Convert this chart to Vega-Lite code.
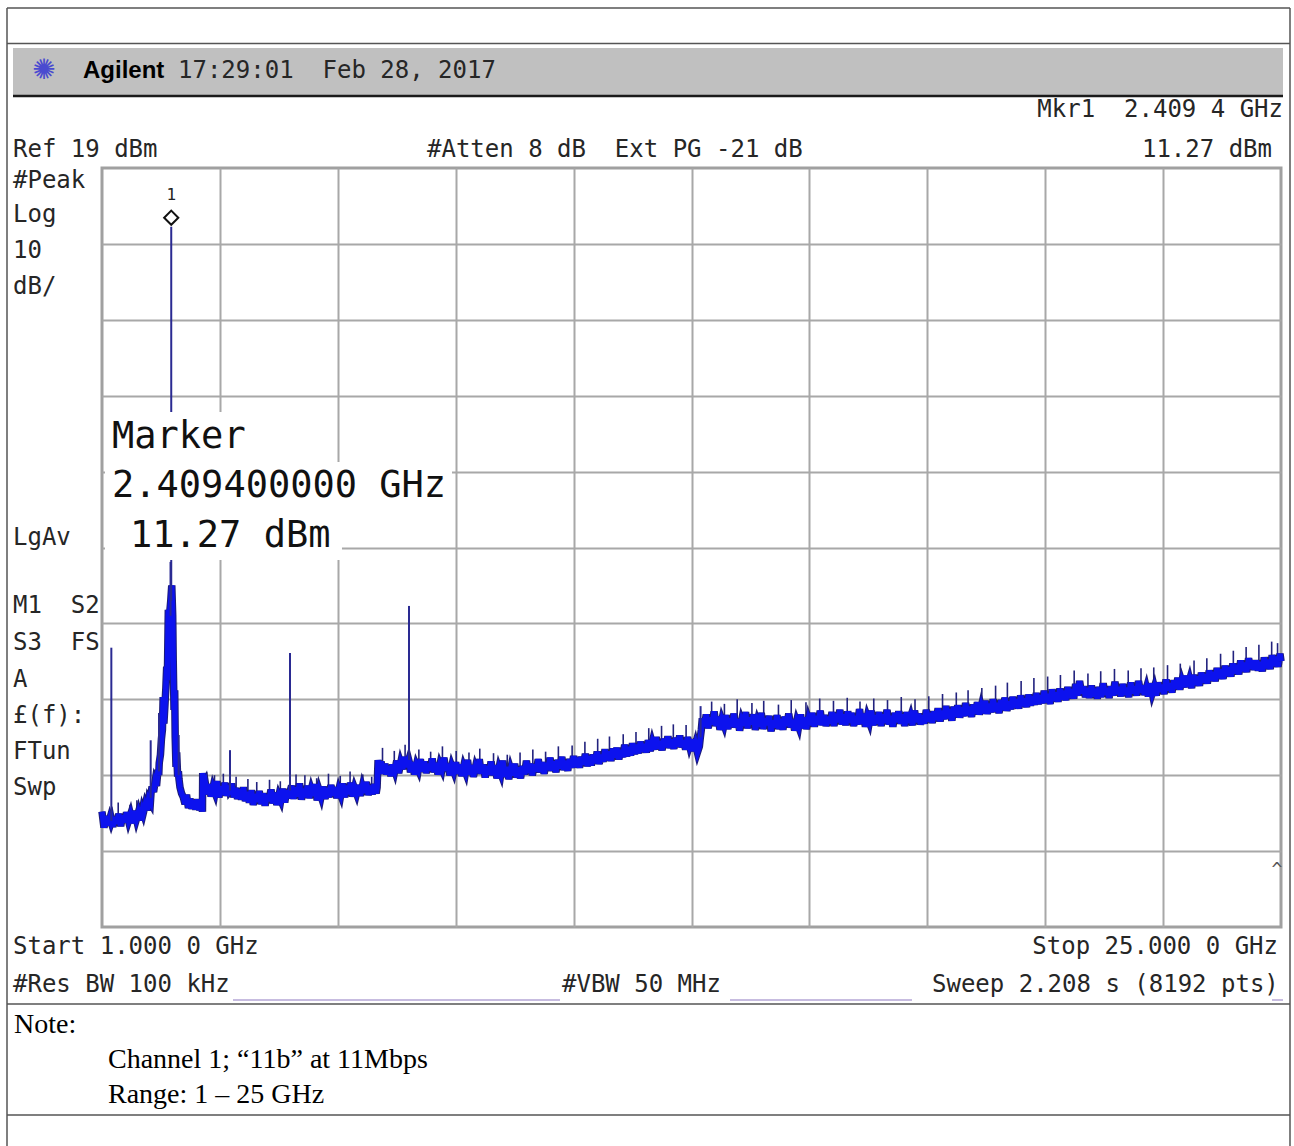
{
"$schema": "https://vega.github.io/schema/vega-lite/v6.json",
"width": 1179,
"height": 759,
"autosize": {"type": "none"},
"padding": {"left": 102, "top": 168, "right": 13, "bottom": 219},
"background": "white",
"config": {"view": {"stroke": "#a0a0a0", "strokeWidth": 3}},
"datasets": {
"trace": [
{"ghz":1.00,"dbm":-65.8},{"ghz":1.04,"dbm":-67.9},{"ghz":1.08,"dbm":-66.4},{"ghz":1.12,"dbm":-67.6},{"ghz":1.16,"dbm":-66.7},{"ghz":1.185,"dbm":-67.2},{"ghz":1.195,"dbm":-67.0},{"ghz":1.22,"dbm":-67.8},{"ghz":1.26,"dbm":-66.5},{"ghz":1.30,"dbm":-67.4},{"ghz":1.34,"dbm":-66.1},{"ghz":1.38,"dbm":-67.7},{"ghz":1.42,"dbm":-66.3},{"ghz":1.46,"dbm":-67.2},{"ghz":1.50,"dbm":-65.9},{"ghz":1.54,"dbm":-67.0},{"ghz":1.58,"dbm":-66.2},{"ghz":1.62,"dbm":-67.3},{"ghz":1.66,"dbm":-65.7},{"ghz":1.70,"dbm":-66.8},{"ghz":1.74,"dbm":-65.9},{"ghz":1.78,"dbm":-66.9},{"ghz":1.82,"dbm":-65.6},{"ghz":1.84,"dbm":-66.0},{"ghz":1.88,"dbm":-64.9},{"ghz":1.92,"dbm":-65.6},{"ghz":1.95,"dbm":-64.2},{"ghz":1.985,"dbm":-64.6},{"ghz":1.997,"dbm":-63.4},{"ghz":2.02,"dbm":-62.5},{"ghz":2.05,"dbm":-63.2},{"ghz":2.08,"dbm":-61.9},{"ghz":2.11,"dbm":-62.4},{"ghz":2.14,"dbm":-60.3},{"ghz":2.155,"dbm":-61.0},{"ghz":2.165,"dbm":-59.4},{"ghz":2.19,"dbm":-58.3},{"ghz":2.21,"dbm":-56.2},{"ghz":2.23,"dbm":-55.0},{"ghz":2.245,"dbm":-50.7},{"ghz":2.26,"dbm":-54.2},{"ghz":2.28,"dbm":-51.9},{"ghz":2.30,"dbm":-49.5},{"ghz":2.317,"dbm":-46.7},{"ghz":2.33,"dbm":-48.5},{"ghz":2.35,"dbm":-39.2},{"ghz":2.365,"dbm":-44.0},{"ghz":2.384,"dbm":-39.2},{"ghz":2.40,"dbm":-38.0},{"ghz":2.42,"dbm":-36.0},{"ghz":2.439,"dbm":-39.9},{"ghz":2.45,"dbm":-46.0},{"ghz":2.466,"dbm":-52.4},{"ghz":2.48,"dbm":-49.8},{"ghz":2.49,"dbm":-56.0},{"ghz":2.506,"dbm":-59.9},{"ghz":2.52,"dbm":-58.0},{"ghz":2.54,"dbm":-61.2},{"ghz":2.555,"dbm":-60.5},{"ghz":2.567,"dbm":-61.5},{"ghz":2.588,"dbm":-62.6},{"ghz":2.62,"dbm":-63.4},{"ghz":2.655,"dbm":-63.9},{"ghz":2.69,"dbm":-64.8},{"ghz":2.72,"dbm":-63.6},{"ghz":2.76,"dbm":-65.3},{"ghz":2.79,"dbm":-64.1},{"ghz":2.83,"dbm":-65.4},{"ghz":2.87,"dbm":-64.3},{"ghz":2.91,"dbm":-65.5},{"ghz":2.95,"dbm":-64.2},{"ghz":2.99,"dbm":-65.6},{"ghz":3.03,"dbm":-64.6},{"ghz":3.045,"dbm":-65.8},{"ghz":3.05,"dbm":-60.7},{"ghz":3.06,"dbm":-62.4},
{"ghz":3.10,"dbm":-61.9},{"ghz":3.14,"dbm":-63.5},{"ghz":3.18,"dbm":-62.2},{"ghz":3.22,"dbm":-63.8},{"ghz":3.26,"dbm":-62.6},{"ghz":3.30,"dbm":-63.3},{"ghz":3.34,"dbm":-61.8},{"ghz":3.38,"dbm":-63.9},{"ghz":3.42,"dbm":-62.5},{"ghz":3.46,"dbm":-63.6},{"ghz":3.50,"dbm":-62.0},{"ghz":3.54,"dbm":-63.7},{"ghz":3.58,"dbm":-62.4},{"ghz":3.600,"dbm":-63.1},{"ghz":3.612,"dbm":-63.0},{"ghz":3.64,"dbm":-62.1},{"ghz":3.68,"dbm":-63.9},{"ghz":3.72,"dbm":-62.7},{"ghz":3.76,"dbm":-64.1},{"ghz":3.80,"dbm":-62.9},{"ghz":3.84,"dbm":-64.2},{"ghz":3.88,"dbm":-62.6},{"ghz":3.92,"dbm":-64.4},{"ghz":3.96,"dbm":-63.2},{"ghz":4.00,"dbm":-64.6},{"ghz":4.04,"dbm":-63.0},{"ghz":4.08,"dbm":-64.9},{"ghz":4.12,"dbm":-63.5},{"ghz":4.16,"dbm":-64.5},{"ghz":4.20,"dbm":-63.1},{"ghz":4.24,"dbm":-64.8},{"ghz":4.28,"dbm":-63.4},{"ghz":4.32,"dbm":-65.0},{"ghz":4.36,"dbm":-63.6},{"ghz":4.40,"dbm":-64.4},{"ghz":4.44,"dbm":-62.9},{"ghz":4.48,"dbm":-64.7},{"ghz":4.52,"dbm":-63.3},{"ghz":4.56,"dbm":-64.9},{"ghz":4.60,"dbm":-63.7},{"ghz":4.64,"dbm":-64.3},{"ghz":4.68,"dbm":-62.8},{"ghz":4.72,"dbm":-64.6},{"ghz":4.76,"dbm":-63.0},{"ghz":4.80,"dbm":-64.0},{"ghz":4.821,"dbm":-63.4},{"ghz":4.833,"dbm":-63.0},{"ghz":4.86,"dbm":-62.4},{"ghz":4.90,"dbm":-64.1},{"ghz":4.94,"dbm":-62.6},{"ghz":4.98,"dbm":-63.8},{"ghz":5.02,"dbm":-62.1},{"ghz":5.06,"dbm":-64.2},{"ghz":5.10,"dbm":-62.8},{"ghz":5.14,"dbm":-63.9},{"ghz":5.18,"dbm":-62.4},{"ghz":5.22,"dbm":-64.0},{"ghz":5.26,"dbm":-62.9},{"ghz":5.30,"dbm":-63.7},{"ghz":5.34,"dbm":-62.2},{"ghz":5.38,"dbm":-64.3},{"ghz":5.42,"dbm":-63.0},{"ghz":5.46,"dbm":-63.8},{"ghz":5.50,"dbm":-62.5},{"ghz":5.54,"dbm":-64.1},{"ghz":5.58,"dbm":-62.7},{"ghz":5.62,"dbm":-63.9},{"ghz":5.66,"dbm":-62.3},{"ghz":5.70,"dbm":-63.7},{"ghz":5.74,"dbm":-62.6},{"ghz":5.78,"dbm":-64.0},{"ghz":5.82,"dbm":-62.9},{"ghz":5.86,"dbm":-63.6},{"ghz":5.90,"dbm":-62.1},{"ghz":5.94,"dbm":-63.9},{"ghz":5.98,"dbm":-62.4},{"ghz":6.02,"dbm":-63.5},{"ghz":6.06,"dbm":-62.0},{"ghz":6.10,"dbm":-63.8},{"ghz":6.14,"dbm":-62.7},{"ghz":6.18,"dbm":-63.4},{"ghz":6.22,"dbm":-62.3},{"ghz":6.26,"dbm":-63.7},{"ghz":6.30,"dbm":-62.5},{"ghz":6.34,"dbm":-63.3},{"ghz":6.38,"dbm":-61.9},{"ghz":6.42,"dbm":-63.6},{"ghz":6.46,"dbm":-62.4},{"ghz":6.50,"dbm":-63.5},{"ghz":6.54,"dbm":-62.2},{"ghz":6.58,"dbm":-63.4},{"ghz":6.60,"dbm":-62.6},{"ghz":6.62,"dbm":-59.0},{"ghz":6.64,"dbm":-60.6},
{"ghz":6.68,"dbm":-59.2},{"ghz":6.72,"dbm":-60.8},{"ghz":6.76,"dbm":-59.5},{"ghz":6.80,"dbm":-60.9},{"ghz":6.84,"dbm":-59.8},{"ghz":6.88,"dbm":-61.1},{"ghz":6.92,"dbm":-59.6},{"ghz":6.96,"dbm":-60.4},{"ghz":7.00,"dbm":-59.1},{"ghz":7.04,"dbm":-60.7},{"ghz":7.08,"dbm":-59.4},{"ghz":7.12,"dbm":-60.2},{"ghz":7.16,"dbm":-58.6},{"ghz":7.20,"dbm":-59.9},{"ghz":7.243,"dbm":-59.0},{"ghz":7.255,"dbm":-59.3},{"ghz":7.28,"dbm":-60.6},{"ghz":7.32,"dbm":-59.3},{"ghz":7.36,"dbm":-60.9},{"ghz":7.40,"dbm":-59.7},{"ghz":7.44,"dbm":-60.3},{"ghz":7.48,"dbm":-58.9},{"ghz":7.52,"dbm":-60.5},{"ghz":7.56,"dbm":-59.2},{"ghz":7.60,"dbm":-60.7},{"ghz":7.64,"dbm":-59.5},{"ghz":7.68,"dbm":-60.4},{"ghz":7.72,"dbm":-58.8},{"ghz":7.76,"dbm":-60.6},{"ghz":7.80,"dbm":-59.4},{"ghz":7.84,"dbm":-60.9},{"ghz":7.88,"dbm":-59.6},{"ghz":7.92,"dbm":-60.2},{"ghz":7.96,"dbm":-58.7},{"ghz":8.00,"dbm":-60.4},{"ghz":8.04,"dbm":-59.5},{"ghz":8.08,"dbm":-61.0},{"ghz":8.12,"dbm":-59.8},{"ghz":8.16,"dbm":-60.5},{"ghz":8.20,"dbm":-59.3},{"ghz":8.24,"dbm":-60.8},{"ghz":8.28,"dbm":-59.6},{"ghz":8.32,"dbm":-61.1},{"ghz":8.36,"dbm":-59.9},{"ghz":8.40,"dbm":-60.6},{"ghz":8.44,"dbm":-59.0},{"ghz":8.48,"dbm":-60.9},{"ghz":8.52,"dbm":-59.7},{"ghz":8.56,"dbm":-61.2},{"ghz":8.60,"dbm":-60.0},{"ghz":8.64,"dbm":-60.7},{"ghz":8.68,"dbm":-58.9},{"ghz":8.72,"dbm":-60.8},{"ghz":8.76,"dbm":-59.6},{"ghz":8.80,"dbm":-61.3},{"ghz":8.84,"dbm":-59.8},{"ghz":8.88,"dbm":-60.9},{"ghz":8.92,"dbm":-59.2},{"ghz":8.96,"dbm":-61.0},{"ghz":9.00,"dbm":-59.7},{"ghz":9.04,"dbm":-61.4},{"ghz":9.08,"dbm":-60.1},{"ghz":9.12,"dbm":-60.8},{"ghz":9.16,"dbm":-59.1},{"ghz":9.20,"dbm":-61.2},{"ghz":9.24,"dbm":-59.9},{"ghz":9.28,"dbm":-61.5},{"ghz":9.32,"dbm":-60.2},{"ghz":9.36,"dbm":-61.0},{"ghz":9.40,"dbm":-59.5},{"ghz":9.44,"dbm":-61.3},{"ghz":9.48,"dbm":-60.0},{"ghz":9.52,"dbm":-61.4},{"ghz":9.56,"dbm":-59.8},{"ghz":9.60,"dbm":-60.9},{"ghz":9.64,"dbm":-59.1},{"ghz":9.68,"dbm":-60.7},{"ghz":9.72,"dbm":-59.5},{"ghz":9.76,"dbm":-61.0},{"ghz":9.80,"dbm":-59.6},{"ghz":9.84,"dbm":-60.5},{"ghz":9.88,"dbm":-58.9},{"ghz":9.92,"dbm":-60.6},{"ghz":9.96,"dbm":-59.3},{"ghz":10.00,"dbm":-60.8},{"ghz":10.04,"dbm":-59.4},{"ghz":10.08,"dbm":-60.3},{"ghz":10.12,"dbm":-58.7},{"ghz":10.16,"dbm":-60.4},{"ghz":10.20,"dbm":-59.2},{"ghz":10.24,"dbm":-60.6},{"ghz":10.28,"dbm":-59.0},{"ghz":10.32,"dbm":-60.1},{"ghz":10.36,"dbm":-58.6},{"ghz":10.40,"dbm":-60.3},{"ghz":10.44,"dbm":-59.1},{"ghz":10.48,"dbm":-60.4},{"ghz":10.52,"dbm":-58.9},{"ghz":10.56,"dbm":-60.0},{"ghz":10.60,"dbm":-58.5},{"ghz":10.64,"dbm":-59.9},{"ghz":10.68,"dbm":-58.7},{"ghz":10.72,"dbm":-60.0},{"ghz":10.76,"dbm":-58.6},{"ghz":10.80,"dbm":-59.6},{"ghz":10.84,"dbm":-58.2},{"ghz":10.88,"dbm":-59.8},{"ghz":10.92,"dbm":-58.5},{"ghz":10.96,"dbm":-59.7},{"ghz":11.00,"dbm":-58.3},{"ghz":11.04,"dbm":-59.4},{"ghz":11.08,"dbm":-57.9},{"ghz":11.12,"dbm":-59.5},{"ghz":11.16,"dbm":-58.3},{"ghz":11.20,"dbm":-59.2},{"ghz":11.24,"dbm":-57.6},{"ghz":11.28,"dbm":-59.0},{"ghz":11.32,"dbm":-57.9},{"ghz":11.36,"dbm":-59.1},{"ghz":11.40,"dbm":-57.5},{"ghz":11.44,"dbm":-58.7},{"ghz":11.48,"dbm":-57.4},{"ghz":11.52,"dbm":-58.9},{"ghz":11.56,"dbm":-57.7},{"ghz":11.60,"dbm":-58.6},{"ghz":11.64,"dbm":-57.0},{"ghz":11.68,"dbm":-58.5},{"ghz":11.72,"dbm":-57.3},{"ghz":11.76,"dbm":-58.4},{"ghz":11.80,"dbm":-56.8},{"ghz":11.84,"dbm":-58.2},{"ghz":11.88,"dbm":-57.0},{"ghz":11.92,"dbm":-58.1},{"ghz":11.96,"dbm":-56.6},{"ghz":12.00,"dbm":-57.9},{"ghz":12.04,"dbm":-56.9},{"ghz":12.08,"dbm":-58.0},{"ghz":12.12,"dbm":-56.4},{"ghz":12.16,"dbm":-57.8},{"ghz":12.20,"dbm":-56.7},{"ghz":12.24,"dbm":-57.6},{"ghz":12.28,"dbm":-56.0},{"ghz":12.32,"dbm":-57.5},{"ghz":12.36,"dbm":-56.5},{"ghz":12.40,"dbm":-57.7},{"ghz":12.44,"dbm":-56.2},{"ghz":12.48,"dbm":-57.3},{"ghz":12.52,"dbm":-55.9},{"ghz":12.56,"dbm":-57.4},{"ghz":12.60,"dbm":-56.3},{"ghz":12.64,"dbm":-57.5},{"ghz":12.68,"dbm":-56.1},{"ghz":12.72,"dbm":-57.2},{"ghz":12.76,"dbm":-55.8},{"ghz":12.80,"dbm":-57.3},{"ghz":12.84,"dbm":-56.4},{"ghz":12.88,"dbm":-57.6},{"ghz":12.92,"dbm":-56.0},{"ghz":12.96,"dbm":-57.1},{"ghz":13.00,"dbm":-56.3},{"ghz":13.04,"dbm":-57.8},{"ghz":13.08,"dbm":-56.9},{"ghz":13.12,"dbm":-58.0},{"ghz":13.16,"dbm":-57.2},{"ghz":13.18,"dbm":-56.0},{"ghz":13.20,"dbm":-55.0},{"ghz":13.22,"dbm":-53.5},
{"ghz":13.26,"dbm":-54.6},{"ghz":13.30,"dbm":-53.0},{"ghz":13.34,"dbm":-54.8},{"ghz":13.38,"dbm":-53.4},{"ghz":13.42,"dbm":-54.3},{"ghz":13.46,"dbm":-52.6},{"ghz":13.50,"dbm":-54.5},{"ghz":13.54,"dbm":-53.3},{"ghz":13.58,"dbm":-55.0},{"ghz":13.62,"dbm":-53.7},{"ghz":13.66,"dbm":-54.4},{"ghz":13.70,"dbm":-53.1},{"ghz":13.74,"dbm":-54.9},{"ghz":13.78,"dbm":-53.5},{"ghz":13.82,"dbm":-54.6},{"ghz":13.86,"dbm":-52.9},{"ghz":13.90,"dbm":-54.7},{"ghz":13.94,"dbm":-53.6},{"ghz":13.98,"dbm":-55.1},{"ghz":14.02,"dbm":-53.8},{"ghz":14.06,"dbm":-54.5},{"ghz":14.10,"dbm":-52.7},{"ghz":14.14,"dbm":-54.8},{"ghz":14.18,"dbm":-53.4},{"ghz":14.22,"dbm":-54.3},{"ghz":14.26,"dbm":-53.0},{"ghz":14.30,"dbm":-55.0},{"ghz":14.34,"dbm":-53.9},{"ghz":14.38,"dbm":-54.6},{"ghz":14.42,"dbm":-52.8},{"ghz":14.46,"dbm":-54.9},{"ghz":14.50,"dbm":-53.5},{"ghz":14.54,"dbm":-54.4},{"ghz":14.58,"dbm":-53.2},{"ghz":14.62,"dbm":-55.2},{"ghz":14.66,"dbm":-53.8},{"ghz":14.70,"dbm":-54.7},{"ghz":14.74,"dbm":-53.1},{"ghz":14.78,"dbm":-54.9},{"ghz":14.82,"dbm":-53.6},{"ghz":14.86,"dbm":-55.0},{"ghz":14.90,"dbm":-53.3},{"ghz":14.94,"dbm":-54.5},{"ghz":14.98,"dbm":-52.9},{"ghz":15.02,"dbm":-54.7},{"ghz":15.06,"dbm":-53.7},{"ghz":15.10,"dbm":-55.1},{"ghz":15.14,"dbm":-53.9},{"ghz":15.18,"dbm":-54.6},{"ghz":15.22,"dbm":-53.0},{"ghz":15.26,"dbm":-54.8},{"ghz":15.30,"dbm":-53.4},{"ghz":15.34,"dbm":-54.9},{"ghz":15.38,"dbm":-53.6},{"ghz":15.42,"dbm":-54.4},{"ghz":15.46,"dbm":-52.8},{"ghz":15.50,"dbm":-54.6},{"ghz":15.54,"dbm":-53.2},{"ghz":15.58,"dbm":-54.3},{"ghz":15.62,"dbm":-52.5},{"ghz":15.66,"dbm":-54.4},{"ghz":15.70,"dbm":-53.1},{"ghz":15.74,"dbm":-54.5},{"ghz":15.78,"dbm":-53.3},{"ghz":15.82,"dbm":-54.2},{"ghz":15.86,"dbm":-52.7},{"ghz":15.90,"dbm":-54.5},{"ghz":15.94,"dbm":-52.9},{"ghz":15.98,"dbm":-54.0},{"ghz":16.02,"dbm":-52.4},{"ghz":16.06,"dbm":-54.3},{"ghz":16.10,"dbm":-53.0},{"ghz":16.14,"dbm":-54.4},{"ghz":16.18,"dbm":-52.6},{"ghz":16.22,"dbm":-54.1},{"ghz":16.26,"dbm":-52.8},{"ghz":16.30,"dbm":-54.5},{"ghz":16.34,"dbm":-53.2},{"ghz":16.38,"dbm":-54.3},{"ghz":16.42,"dbm":-52.3},{"ghz":16.46,"dbm":-54.2},{"ghz":16.50,"dbm":-52.9},{"ghz":16.54,"dbm":-54.6},{"ghz":16.58,"dbm":-53.3},{"ghz":16.62,"dbm":-54.0},{"ghz":16.66,"dbm":-52.5},{"ghz":16.70,"dbm":-54.4},{"ghz":16.74,"dbm":-53.1},{"ghz":16.78,"dbm":-54.2},{"ghz":16.82,"dbm":-52.7},{"ghz":16.86,"dbm":-54.5},{"ghz":16.90,"dbm":-53.0},{"ghz":16.94,"dbm":-54.1},{"ghz":16.98,"dbm":-52.4},{"ghz":17.02,"dbm":-54.3},{"ghz":17.06,"dbm":-53.2},{"ghz":17.10,"dbm":-54.6},{"ghz":17.14,"dbm":-52.8},{"ghz":17.18,"dbm":-54.0},{"ghz":17.22,"dbm":-52.6},{"ghz":17.26,"dbm":-54.2},{"ghz":17.30,"dbm":-53.0},{"ghz":17.34,"dbm":-54.5},{"ghz":17.38,"dbm":-52.7},{"ghz":17.42,"dbm":-54.1},{"ghz":17.46,"dbm":-53.3},{"ghz":17.50,"dbm":-54.4},{"ghz":17.54,"dbm":-52.5},{"ghz":17.58,"dbm":-54.0},{"ghz":17.62,"dbm":-52.9},{"ghz":17.66,"dbm":-54.3},{"ghz":17.70,"dbm":-53.1},{"ghz":17.74,"dbm":-54.2},{"ghz":17.78,"dbm":-52.4},{"ghz":17.82,"dbm":-53.9},{"ghz":17.86,"dbm":-52.8},{"ghz":17.90,"dbm":-54.1},{"ghz":17.94,"dbm":-52.6},{"ghz":17.98,"dbm":-53.7},{"ghz":18.02,"dbm":-52.2},{"ghz":18.06,"dbm":-53.9},{"ghz":18.10,"dbm":-52.5},{"ghz":18.14,"dbm":-53.6},{"ghz":18.18,"dbm":-51.9},{"ghz":18.22,"dbm":-53.5},{"ghz":18.26,"dbm":-52.3},{"ghz":18.30,"dbm":-53.8},{"ghz":18.34,"dbm":-52.0},{"ghz":18.38,"dbm":-53.3},{"ghz":18.42,"dbm":-51.8},{"ghz":18.46,"dbm":-53.4},{"ghz":18.50,"dbm":-52.1},{"ghz":18.54,"dbm":-53.2},{"ghz":18.58,"dbm":-51.5},{"ghz":18.62,"dbm":-53.1},{"ghz":18.66,"dbm":-52.0},{"ghz":18.70,"dbm":-53.3},{"ghz":18.74,"dbm":-51.7},{"ghz":18.78,"dbm":-52.9},{"ghz":18.82,"dbm":-51.4},{"ghz":18.86,"dbm":-53.0},{"ghz":18.90,"dbm":-51.9},{"ghz":18.94,"dbm":-52.8},{"ghz":18.98,"dbm":-51.2},{"ghz":19.02,"dbm":-52.9},{"ghz":19.06,"dbm":-51.6},{"ghz":19.10,"dbm":-52.7},{"ghz":19.14,"dbm":-51.0},{"ghz":19.18,"dbm":-52.6},{"ghz":19.22,"dbm":-51.5},{"ghz":19.26,"dbm":-52.8},{"ghz":19.30,"dbm":-51.1},{"ghz":19.34,"dbm":-52.4},{"ghz":19.38,"dbm":-50.8},{"ghz":19.42,"dbm":-52.5},{"ghz":19.46,"dbm":-51.3},{"ghz":19.50,"dbm":-52.3},{"ghz":19.54,"dbm":-50.7},{"ghz":19.58,"dbm":-52.1},{"ghz":19.62,"dbm":-51.0},{"ghz":19.66,"dbm":-52.2},{"ghz":19.70,"dbm":-50.5},{"ghz":19.74,"dbm":-51.9},{"ghz":19.78,"dbm":-50.9},{"ghz":19.82,"dbm":-52.0},{"ghz":19.86,"dbm":-50.4},{"ghz":19.90,"dbm":-51.8},{"ghz":19.94,"dbm":-50.6},{"ghz":19.98,"dbm":-51.7},{"ghz":20.02,"dbm":-50.2},{"ghz":20.06,"dbm":-51.6},{"ghz":20.10,"dbm":-50.5},{"ghz":20.14,"dbm":-51.5},{"ghz":20.18,"dbm":-49.9},{"ghz":20.22,"dbm":-51.4},{"ghz":20.26,"dbm":-50.3},{"ghz":20.30,"dbm":-51.6},{"ghz":20.34,"dbm":-49.7},{"ghz":20.38,"dbm":-51.2},{"ghz":20.42,"dbm":-50.1},{"ghz":20.46,"dbm":-51.3},{"ghz":20.50,"dbm":-49.6},{"ghz":20.54,"dbm":-51.0},{"ghz":20.58,"dbm":-49.9},{"ghz":20.62,"dbm":-51.1},{"ghz":20.66,"dbm":-49.4},{"ghz":20.70,"dbm":-50.8},{"ghz":20.74,"dbm":-49.7},{"ghz":20.78,"dbm":-50.9},{"ghz":20.82,"dbm":-49.0},{"ghz":20.86,"dbm":-50.5},{"ghz":20.90,"dbm":-48.6},{"ghz":20.94,"dbm":-50.2},{"ghz":20.98,"dbm":-49.3},{"ghz":21.02,"dbm":-50.7},{"ghz":21.06,"dbm":-49.5},{"ghz":21.10,"dbm":-50.8},{"ghz":21.14,"dbm":-49.2},{"ghz":21.18,"dbm":-50.6},{"ghz":21.22,"dbm":-49.6},{"ghz":21.26,"dbm":-50.9},{"ghz":21.30,"dbm":-49.4},{"ghz":21.34,"dbm":-50.7},{"ghz":21.38,"dbm":-48.9},{"ghz":21.42,"dbm":-50.4},{"ghz":21.46,"dbm":-49.5},{"ghz":21.50,"dbm":-50.8},{"ghz":21.54,"dbm":-49.3},{"ghz":21.58,"dbm":-50.5},{"ghz":21.62,"dbm":-48.7},{"ghz":21.66,"dbm":-50.3},{"ghz":21.70,"dbm":-49.4},{"ghz":21.74,"dbm":-50.6},{"ghz":21.78,"dbm":-49.0},{"ghz":21.82,"dbm":-50.4},{"ghz":21.86,"dbm":-49.5},{"ghz":21.90,"dbm":-50.7},{"ghz":21.94,"dbm":-48.8},{"ghz":21.98,"dbm":-50.2},{"ghz":22.02,"dbm":-49.3},{"ghz":22.06,"dbm":-50.5},{"ghz":22.10,"dbm":-48.6},{"ghz":22.14,"dbm":-50.1},{"ghz":22.18,"dbm":-49.2},{"ghz":22.22,"dbm":-50.4},{"ghz":22.26,"dbm":-49.5},{"ghz":22.30,"dbm":-50.6},{"ghz":22.34,"dbm":-48.9},{"ghz":22.38,"dbm":-50.2},{"ghz":22.42,"dbm":-49.4},{"ghz":22.46,"dbm":-50.5},{"ghz":22.50,"dbm":-48.8},{"ghz":22.54,"dbm":-50.0},{"ghz":22.58,"dbm":-49.1},{"ghz":22.62,"dbm":-50.3},{"ghz":22.66,"dbm":-48.4},{"ghz":22.70,"dbm":-49.8},{"ghz":22.74,"dbm":-48.9},{"ghz":22.78,"dbm":-50.1},{"ghz":22.82,"dbm":-48.5},{"ghz":22.86,"dbm":-49.6},{"ghz":22.90,"dbm":-48.2},{"ghz":22.94,"dbm":-49.7},{"ghz":22.98,"dbm":-48.6},{"ghz":23.02,"dbm":-49.4},{"ghz":23.06,"dbm":-47.9},{"ghz":23.10,"dbm":-49.3},{"ghz":23.14,"dbm":-48.4},{"ghz":23.18,"dbm":-49.5},{"ghz":23.22,"dbm":-47.8},{"ghz":23.26,"dbm":-49.1},{"ghz":23.30,"dbm":-48.0},{"ghz":23.34,"dbm":-49.2},{"ghz":23.38,"dbm":-47.5},{"ghz":23.42,"dbm":-48.8},{"ghz":23.46,"dbm":-47.7},{"ghz":23.50,"dbm":-48.9},{"ghz":23.54,"dbm":-47.2},{"ghz":23.58,"dbm":-48.5},{"ghz":23.62,"dbm":-47.4},{"ghz":23.66,"dbm":-48.6},{"ghz":23.70,"dbm":-46.9},{"ghz":23.74,"dbm":-48.2},{"ghz":23.78,"dbm":-47.1},{"ghz":23.82,"dbm":-48.3},{"ghz":23.86,"dbm":-46.6},{"ghz":23.90,"dbm":-47.9},{"ghz":23.94,"dbm":-46.8},{"ghz":23.98,"dbm":-48.0},{"ghz":24.02,"dbm":-46.3},{"ghz":24.06,"dbm":-47.6},{"ghz":24.10,"dbm":-46.5},{"ghz":24.14,"dbm":-47.7},{"ghz":24.18,"dbm":-45.9},{"ghz":24.22,"dbm":-47.3},{"ghz":24.26,"dbm":-46.2},{"ghz":24.30,"dbm":-47.4},{"ghz":24.34,"dbm":-45.6},{"ghz":24.38,"dbm":-47.0},{"ghz":24.42,"dbm":-45.9},{"ghz":24.46,"dbm":-47.1},{"ghz":24.50,"dbm":-45.9},{"ghz":24.54,"dbm":-47.2},{"ghz":24.58,"dbm":-46.1},{"ghz":24.62,"dbm":-47.3},{"ghz":24.66,"dbm":-45.5},{"ghz":24.70,"dbm":-46.9},{"ghz":24.74,"dbm":-45.8},{"ghz":24.78,"dbm":-47.0},{"ghz":24.82,"dbm":-45.2},{"ghz":24.86,"dbm":-46.6},{"ghz":24.90,"dbm":-45.4},{"ghz":24.94,"dbm":-46.7},{"ghz":24.98,"dbm":-45.0},{"ghz":25.00,"dbm":-46.0}
],
"spurs": [
{"ghz":1.19,"dbm":-67.0,"dbm2":-44.2},
{"ghz":1.991,"dbm":-64.0,"dbm2":-56.4},
{"ghz":2.160,"dbm":-60.5,"dbm2":-52.8},
{"ghz":2.395,"dbm":-40.0,"dbm2":-32.9},
{"ghz":2.4094,"dbm":-38.0,"dbm2":11.27},
{"ghz":2.561,"dbm":-61.0,"dbm2":-55.7},
{"ghz":3.606,"dbm":-63.0,"dbm2":-57.7},
{"ghz":4.827,"dbm":-63.0,"dbm2":-44.9},
{"ghz":7.249,"dbm":-59.0,"dbm2":-38.7},
{"ghz":13.185,"dbm":-56.0,"dbm2":-51.9}
],
"ticks": [
{"ghz":1.33,"dbm":-66.8,"dbm2":-64.6},{"ghz":1.57,"dbm":-66.8,"dbm2":-64.9},{"ghz":1.71,"dbm":-66.5,"dbm2":-64.3},
{"ghz":3.13,"dbm":-63.0,"dbm2":-60.6},{"ghz":3.29,"dbm":-63.0,"dbm2":-61.0},{"ghz":3.47,"dbm":-63.0,"dbm2":-60.8},{"ghz":3.73,"dbm":-63.3,"dbm2":-61.2},{"ghz":3.97,"dbm":-63.6,"dbm2":-61.5},{"ghz":4.15,"dbm":-63.8,"dbm2":-61.9},{"ghz":4.41,"dbm":-63.6,"dbm2":-61.6},{"ghz":4.63,"dbm":-63.6,"dbm2":-61.8},{"ghz":4.95,"dbm":-63.2,"dbm2":-60.9},{"ghz":5.13,"dbm":-63.2,"dbm2":-61.0},{"ghz":5.37,"dbm":-63.2,"dbm2":-61.4},{"ghz":5.61,"dbm":-63.1,"dbm2":-60.8},{"ghz":5.85,"dbm":-63.1,"dbm2":-61.1},{"ghz":6.05,"dbm":-62.9,"dbm2":-60.5},{"ghz":6.31,"dbm":-62.9,"dbm2":-60.9},{"ghz":6.49,"dbm":-62.9,"dbm2":-61.2},
{"ghz":6.71,"dbm":-60.0,"dbm2":-57.4},{"ghz":6.95,"dbm":-60.0,"dbm2":-57.8},{"ghz":7.17,"dbm":-59.4,"dbm2":-57.0},{"ghz":7.45,"dbm":-59.8,"dbm2":-57.6},{"ghz":7.69,"dbm":-59.8,"dbm2":-57.9},{"ghz":7.93,"dbm":-59.6,"dbm2":-57.2},{"ghz":8.21,"dbm":-60.0,"dbm2":-57.8},{"ghz":8.47,"dbm":-60.1,"dbm2":-58.0},{"ghz":8.69,"dbm":-60.0,"dbm2":-57.5},{"ghz":8.97,"dbm":-60.3,"dbm2":-58.1},{"ghz":9.25,"dbm":-60.5,"dbm2":-58.3},{"ghz":9.51,"dbm":-60.5,"dbm2":-58.0},{"ghz":9.77,"dbm":-60.1,"dbm2":-57.6},{"ghz":10.03,"dbm":-59.9,"dbm2":-57.9},{"ghz":10.29,"dbm":-59.5,"dbm2":-57.2},{"ghz":10.57,"dbm":-59.3,"dbm2":-57.1},{"ghz":10.83,"dbm":-59.0,"dbm2":-56.6},{"ghz":11.09,"dbm":-58.7,"dbm2":-56.2},{"ghz":11.33,"dbm":-58.3,"dbm2":-55.9},{"ghz":11.61,"dbm":-57.9,"dbm2":-55.6},{"ghz":11.87,"dbm":-57.5,"dbm2":-55.3},{"ghz":12.13,"dbm":-57.2,"dbm2":-54.8},{"ghz":12.39,"dbm":-56.9,"dbm2":-54.5},{"ghz":12.63,"dbm":-56.8,"dbm2":-54.3},{"ghz":12.89,"dbm":-56.8,"dbm2":-54.4},
{"ghz":13.41,"dbm":-53.8,"dbm2":-51.3},{"ghz":13.67,"dbm":-53.8,"dbm2":-51.6},{"ghz":13.93,"dbm":-53.8,"dbm2":-51.0},{"ghz":14.23,"dbm":-53.8,"dbm2":-51.5},{"ghz":14.47,"dbm":-53.8,"dbm2":-51.2},{"ghz":14.77,"dbm":-54.0,"dbm2":-51.7},{"ghz":15.03,"dbm":-53.8,"dbm2":-51.1},{"ghz":15.33,"dbm":-53.8,"dbm2":-51.4},{"ghz":15.61,"dbm":-53.4,"dbm2":-50.9},{"ghz":15.89,"dbm":-53.4,"dbm2":-51.2},{"ghz":16.17,"dbm":-53.3,"dbm2":-50.8},{"ghz":16.43,"dbm":-53.3,"dbm2":-51.3},{"ghz":16.71,"dbm":-53.3,"dbm2":-50.9},{"ghz":16.99,"dbm":-53.3,"dbm2":-51.1},{"ghz":17.27,"dbm":-53.3,"dbm2":-50.7},{"ghz":17.55,"dbm":-53.3,"dbm2":-51.0},{"ghz":17.83,"dbm":-53.1,"dbm2":-50.6},{"ghz":18.11,"dbm":-52.9,"dbm2":-50.3},{"ghz":18.39,"dbm":-52.5,"dbm2":-50.1},{"ghz":18.63,"dbm":-52.2,"dbm2":-49.8},{"ghz":18.91,"dbm":-52.0,"dbm2":-49.5},{"ghz":19.19,"dbm":-51.7,"dbm2":-49.2},{"ghz":19.43,"dbm":-51.5,"dbm2":-48.8},{"ghz":19.71,"dbm":-51.1,"dbm2":-48.6},{"ghz":19.97,"dbm":-50.9,"dbm2":-48.2},{"ghz":20.25,"dbm":-50.6,"dbm2":-48.0},{"ghz":20.51,"dbm":-50.3,"dbm2":-47.8},{"ghz":20.79,"dbm":-49.9,"dbm2":-47.2},{"ghz":21.07,"dbm":-50.0,"dbm2":-47.6},{"ghz":21.33,"dbm":-49.9,"dbm2":-47.3},{"ghz":21.61,"dbm":-49.6,"dbm2":-47.0},{"ghz":21.89,"dbm":-49.7,"dbm2":-47.2},{"ghz":22.15,"dbm":-49.5,"dbm2":-46.9},{"ghz":22.41,"dbm":-49.5,"dbm2":-46.8},{"ghz":22.69,"dbm":-49.2,"dbm2":-46.5},{"ghz":22.95,"dbm":-48.9,"dbm2":-46.3},{"ghz":23.23,"dbm":-48.6,"dbm2":-45.9},{"ghz":23.49,"dbm":-48.2,"dbm2":-45.6},{"ghz":23.77,"dbm":-47.7,"dbm2":-45.0},{"ghz":24.03,"dbm":-47.2,"dbm2":-44.6},{"ghz":24.29,"dbm":-46.7,"dbm2":-44.1},{"ghz":24.55,"dbm":-46.5,"dbm2":-43.8},{"ghz":24.81,"dbm":-46.2,"dbm2":-43.4},{"ghz":24.93,"dbm":-46.1,"dbm2":-43.6}
],
"headerBar": [{"ghz":-0.8117,"ghz2":25.0407,"dbm":34.810,"dbm2":28.618}],
"headerLine": [{"ghz":-0.8117,"ghz2":25.0407,"dbm":28.49,"dbm2":28.49}],
"tableLines": [
{"ghz":-0.9338,"ghz2":25.1832,"dbm":40.080,"dbm2":40.080},
{"ghz":-0.9338,"ghz2":25.1832,"dbm":35.403,"dbm2":35.403},
{"ghz":-0.9338,"ghz2":25.1832,"dbm":-91.145,"dbm2":-91.145},
{"ghz":-0.9338,"ghz2":25.1832,"dbm":-105.769,"dbm2":-105.769},
{"ghz":-0.9338,"ghz2":-0.9338,"dbm":40.080,"dbm2":-110.5},
{"ghz":25.1832,"ghz2":25.1832,"dbm":40.080,"dbm2":-110.5}
],
"underlines": [
{"ghz":3.6667,"ghz2":10.3231,"dbm":-90.618,"dbm2":-90.618},
{"ghz":13.7837,"ghz2":17.4885,"dbm":-90.618,"dbm2":-90.618},
{"ghz":24.8168,"ghz2":25.0407,"dbm":-90.618,"dbm2":-90.618}
],
"markerBoxes": [
{"ghz":1.061,"ghz2":3.809,"dbm":-13.147,"dbm2":-19.735},
{"ghz":1.061,"ghz2":8.125,"dbm":-19.735,"dbm2":-26.323},
{"ghz":1.061,"ghz2":5.885,"dbm":-26.323,"dbm2":-32.647}
],
"marker": [{"ghz":2.4094,"dbm":11.27,"t":"1"}],
"leftText": [
{"ghz":2.547,"dbm":31.78,"t":"17:29:01\u00a0 Feb 28, 2017"},
{"ghz":-0.8117,"dbm":21.372,"t":"Ref 19 dBm"},
{"ghz":7.6158,"dbm":21.372,"t":"#Atten 8 dB\u00a0 Ext PG -21 dB"},
{"ghz":-0.8117,"dbm":17.287,"t":"#Peak"},
{"ghz":-0.8117,"dbm":12.808,"t":"Log"},
{"ghz":-0.8117,"dbm":8.065,"t":"10"},
{"ghz":-0.8117,"dbm":3.321,"t":"dB/"},
{"ghz":-0.8117,"dbm":-29.748,"t":"LgAv"},
{"ghz":-0.8117,"dbm":-38.707,"t":"M1\u00a0 S2"},
{"ghz":-0.8117,"dbm":-43.582,"t":"S3\u00a0 FS"},
{"ghz":-0.8117,"dbm":-48.457,"t":"A"},
{"ghz":-0.8117,"dbm":-53.200,"t":"£(f):"},
{"ghz":-0.8117,"dbm":-57.943,"t":"FTun"},
{"ghz":-0.8117,"dbm":-62.686,"t":"Swp"},
{"ghz":-0.8117,"dbm":-83.595,"t":"Start 1.000 0 GHz"},
{"ghz":-0.8117,"dbm":-88.641,"t":"#Res BW 100 kHz"},
{"ghz":10.364,"dbm":-88.641,"t":"#VBW 50 MHz"},
{"ghz":17.8956,"dbm":-88.641,"t":"Sweep 2.208 s (8192 pts)"}
],
"rightText": [
{"ghz":25.0407,"dbm":26.642,"t":"Mkr1\u00a0 2.409 4 GHz"},
{"ghz":24.8168,"dbm":21.372,"t":"11.27 dBm"},
{"ghz":24.939,"dbm":-83.595,"t":"Stop 25.000 0 GHz"}
],
"markerText": [
{"ghz":1.2036,"dbm":-16.441,"t":"Marker"},
{"ghz":1.2036,"dbm":-22.897,"t":"2.409400000 GHz"},
{"ghz":1.570,"dbm":-29.485,"t":"11.27 dBm"}
],
"noteText": [
{"ghz":-0.7913,"dbm":-93.911,"t":"Note:"},
{"ghz":1.1221,"dbm":-98.523,"t":"Channel 1; \u201c11b\u201d at 11Mbps"},
{"ghz":1.1221,"dbm":-103.134,"t":"Range: 1 \u2013 25 GHz"}
],
"brand": [{"ghz":0.6132,"dbm":31.78,"t":"Agilent"}],
"logo": [{"ghz":-0.1807,"dbm":31.78,"t":"\u273a"}],
"caret": [{"ghz":24.918,"dbm":-73.49,"t":"^"}]
},
"encoding": {
"x": {"field": "ghz", "type": "quantitative", "scale": {"domain": [1, 25], "nice": false, "zero": false},
 "axis": {"values": [3.4, 5.8, 8.2, 10.6, 13, 15.4, 17.8, 20.2, 22.6], "grid": true, "gridColor": "#a8a8a8", "gridWidth": 2, "gridOpacity": 1, "labels": false, "ticks": false, "domain": false, "title": null}},
"y": {"field": "dbm", "type": "quantitative", "scale": {"domain": [-81, 19], "nice": false, "zero": false},
 "axis": {"values": [9, -1, -11, -21, -31, -41, -51, -61, -71], "grid": true, "gridColor": "#a8a8a8", "gridWidth": 2, "gridOpacity": 1, "labels": false, "ticks": false, "domain": false, "title": null}}
},
"layer": [
{"data": {"name": "headerBar"}, "mark": {"type": "rect", "color": "#c0c0c0"}, "encoding": {"x2": {"field": "ghz2"}, "y2": {"field": "dbm2"}}},
{"data": {"name": "headerLine"}, "mark": {"type": "rule", "color": "#1a1a1a", "strokeWidth": 2.5}, "encoding": {"x2": {"field": "ghz2"}, "y2": {"field": "dbm2"}}},
{"data": {"name": "tableLines"}, "mark": {"type": "rule", "color": "#555555", "strokeWidth": 1.5}, "encoding": {"x2": {"field": "ghz2"}, "y2": {"field": "dbm2"}}},
{"data": {"name": "underlines"}, "mark": {"type": "rule", "color": "#b4a6d6", "strokeWidth": 1.5}, "encoding": {"x2": {"field": "ghz2"}, "y2": {"field": "dbm2"}}},
{"data": {"name": "ticks"}, "mark": {"type": "rule", "color": "#22227e", "strokeWidth": 1.6}, "encoding": {"y2": {"field": "dbm2"}}},
{"data": {"name": "trace"}, "mark": {"type": "line", "color": "#1c1c78", "strokeWidth": 7.5, "strokeJoin": "miter"}},
{"data": {"name": "trace"}, "mark": {"type": "line", "color": "#0c12ee", "strokeWidth": 5.5, "strokeJoin": "miter"}},
{"data": {"name": "spurs"}, "mark": {"type": "rule", "color": "#2a2a92", "strokeWidth": 2}, "encoding": {"y2": {"field": "dbm2"}}},
{"data": {"name": "markerBoxes"}, "mark": {"type": "rect", "color": "white"}, "encoding": {"x2": {"field": "ghz2"}, "y2": {"field": "dbm2"}}},
{"data": {"name": "marker"}, "mark": {"type": "point", "shape": "diamond", "size": 200, "filled": true, "fill": "white", "stroke": "#111111", "strokeWidth": 2, "opacity": 1, "yOffset": -9}},
{"data": {"name": "marker"}, "mark": {"type": "text", "font": "DejaVu Sans Mono", "fontSize": 16, "color": "#222222", "baseline": "middle", "align": "center", "yOffset": -32}, "encoding": {"text": {"field": "t"}}},
{"data": {"name": "leftText"}, "mark": {"type": "text", "font": "DejaVu Sans Mono", "fontSize": 24, "color": "#262626", "baseline": "middle", "align": "left"}, "encoding": {"text": {"field": "t"}}},
{"data": {"name": "rightText"}, "mark": {"type": "text", "font": "DejaVu Sans Mono", "fontSize": 24, "color": "#262626", "baseline": "middle", "align": "right"}, "encoding": {"text": {"field": "t"}}},
{"data": {"name": "markerText"}, "mark": {"type": "text", "font": "DejaVu Sans Mono", "fontSize": 37, "color": "#111111", "baseline": "middle", "align": "left"}, "encoding": {"text": {"field": "t"}}},
{"data": {"name": "noteText"}, "mark": {"type": "text", "font": "Liberation Serif", "fontSize": 28, "color": "#000000", "baseline": "middle", "align": "left"}, "encoding": {"text": {"field": "t"}}},
{"data": {"name": "brand"}, "mark": {"type": "text", "font": "Liberation Sans", "fontWeight": "bold", "fontSize": 24, "color": "#000000", "baseline": "middle", "align": "left"}, "encoding": {"text": {"field": "t"}}},
{"data": {"name": "logo"}, "mark": {"type": "text", "font": "DejaVu Sans", "fontSize": 28, "color": "#4a4ad0", "baseline": "middle", "align": "center"}, "encoding": {"text": {"field": "t"}}},
{"data": {"name": "caret"}, "mark": {"type": "text", "font": "DejaVu Sans Mono", "fontSize": 18, "color": "#555555", "baseline": "middle", "align": "center"}, "encoding": {"text": {"field": "t"}}}
]
}
